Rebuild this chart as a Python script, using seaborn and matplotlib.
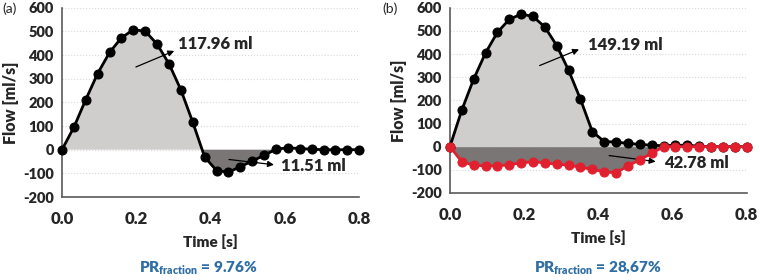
import numpy as np
import pandas as pd
import matplotlib
matplotlib.use("Agg")
import matplotlib.pyplot as plt
import seaborn as sns

# ---- data ----
time_s = [round(0.032 * i, 3) for i in range(26)]
flow_a = [0, 95, 212, 322, 411, 473, 507, 501, 446, 363, 253, 116, -31, -88, -95, -72,
          -48, -24, 2, 8, 5, 2, 0, 0, 0, 0]
flow_b_fwd = [0, 158, 292, 405, 494, 550, 573, 563, 517, 437, 330, 205, 65, 22, 20, 14,
              10, 6, 4, 6, 6, 2, 0, 0, 0, 0]
flow_b_rev = [0, -65, -80, -83, -83, -78, -70, -65, -70, -76, -80, -89, -98, -109, -113, -83,
              -56, -29, 0, 0, 0, 0, 0, 0, 0, 0]
y_ticks = [-200, -100, 0, 100, 200, 300, 400, 500, 600]
x_ticks = [0.0, 0.2, 0.4, 0.6, 0.8]
panel_labels = ["(a)", "(b)"]
volume_labels_a = ["117.96 ml", "11.51 ml"]
volume_labels_b = ["149.19 ml", "42.78 ml"]
pr_labels = ["9.76%", "28,67%"]

sns.set_theme(style="white")
plt.rcParams['font.family'] = ['Lato', 'DejaVu Sans']

LIGHT = "#d0cdcd"
DARK = "#7a7676"
RED = "#e0202e"
BLUE = "#2f6ea5"
SPINE = "#5a5a5a"
W = "heavy"

fig = plt.figure(figsize=(7.6, 2.8), dpi=100)
ax_a = fig.add_axes([0.0816, 0.2964, 0.391, 0.676])
ax_b = fig.add_axes([0.592, 0.311, 0.3904, 0.661])

t = np.array(time_s)


def style(ax):
    ax.set_xlim(0, 0.8)
    ax.set_ylim(-200, 600)
    ax.set_yticks(y_ticks)
    ax.set_xticks(x_ticks)
    ax.set_xticklabels([f"{v:.1f}" for v in x_ticks], fontsize=12, fontweight=W)
    ax.set_yticklabels([str(v) for v in y_ticks], fontsize=10.5, fontweight=W)
    for s in ["top", "right"]:
        ax.spines[s].set_visible(False)
    for s in ["left", "bottom"]:
        ax.spines[s].set_color(SPINE)
        ax.spines[s].set_linewidth(1.2)
    ax.tick_params(axis="both", direction="out", length=4, width=1.2, color=SPINE, pad=2)
    ax.tick_params(axis="x", pad=6)
    ax.yaxis.grid(True, color="#d9d9d9", linestyle=":", linewidth=0.8)
    ax.xaxis.grid(False)
    ax.set_axisbelow(True)
    ax.set_xlabel("Time [s]", fontsize=11, fontweight=W, labelpad=5)
    ax.set_ylabel("Flow [ml/s]", fontsize=11.5, fontweight=W, labelpad=3)


# ---- panel a ----
fa = np.array(flow_a)
ax_a.fill_between(t, 0, fa, where=fa >= 0, interpolate=True, color=LIGHT, lw=0, zorder=1)
ax_a.fill_between(t, 0, fa, where=fa <= 0, interpolate=True, color=DARK, lw=0, zorder=1)
df_a = pd.DataFrame({"t": time_s, "flow": flow_a})
sns.lineplot(data=df_a, x="t", y="flow", ax=ax_a, color="black", lw=2, marker="o",
             markersize=6.5, markeredgecolor="black", clip_on=False, zorder=3)
style(ax_a)
ax_a.annotate("", xy=(0.309, 422), xytext=(0.192, 345),
              arrowprops=dict(arrowstyle="-|>", color="black", lw=0.9, mutation_scale=9))
ax_a.text(0.313, 448, volume_labels_a[0], fontsize=12, fontweight=W, va="center")
ax_a.annotate("", xy=(0.578, -65), xytext=(0.442, -40),
              arrowprops=dict(arrowstyle="-|>", color="black", lw=0.9, mutation_scale=9))
ax_a.text(0.59, -68, volume_labels_a[1], fontsize=12, fontweight=W, va="center")

# ---- panel b ----
fb = np.array(flow_b_fwd)
rb = np.array(flow_b_rev)
ax_b.fill_between(t, 0, fb, color=LIGHT, lw=0, zorder=1)
ax_b.fill_between(t, 0, rb, color=DARK, lw=0, zorder=1)
df_b = pd.DataFrame({"t": time_s * 2, "flow": flow_b_fwd + flow_b_rev,
                     "dir": ["fwd"] * 26 + ["rev"] * 26})
sns.lineplot(data=df_b[df_b.dir == "fwd"], x="t", y="flow", ax=ax_b, color="black", lw=2,
             marker="o", markersize=6.5, markeredgecolor="black", clip_on=False, zorder=3)
sns.lineplot(data=df_b[df_b.dir == "rev"], x="t", y="flow", ax=ax_b, color=RED, lw=2,
             marker="o", markersize=6.5, markeredgecolor=RED, clip_on=False, zorder=4)
style(ax_b)
ax_b.annotate("", xy=(0.355, 425), xytext=(0.235, 346),
              arrowprops=dict(arrowstyle="-|>", color="black", lw=0.9, mutation_scale=9))
ax_b.text(0.371, 440, volume_labels_b[0], fontsize=12, fontweight=W, va="center")
ax_b.annotate("", xy=(0.562, -66), xytext=(0.422, -37),
              arrowprops=dict(arrowstyle="-|>", color="black", lw=0.9, mutation_scale=9))
ax_b.text(0.578, -70, volume_labels_b[1], fontsize=12, fontweight=W, va="center")

# ---- panel letters and PR fraction ----
fig.text(0.003, 0.99, panel_labels[0], fontsize=10, va="top", ha="left")
fig.text(0.503, 0.99, panel_labels[1], fontsize=10, va="top", ha="left")
for xc, lab in zip([0.2605, 0.787], pr_labels):
    fig.text(xc, 1 - 268 / 280, r"PR$_{\mathregular{fraction}}$ = " + lab, fontsize=11,
             fontweight=W, color=BLUE, ha="center", va="center")

fig.savefig("out.png", dpi=100)
